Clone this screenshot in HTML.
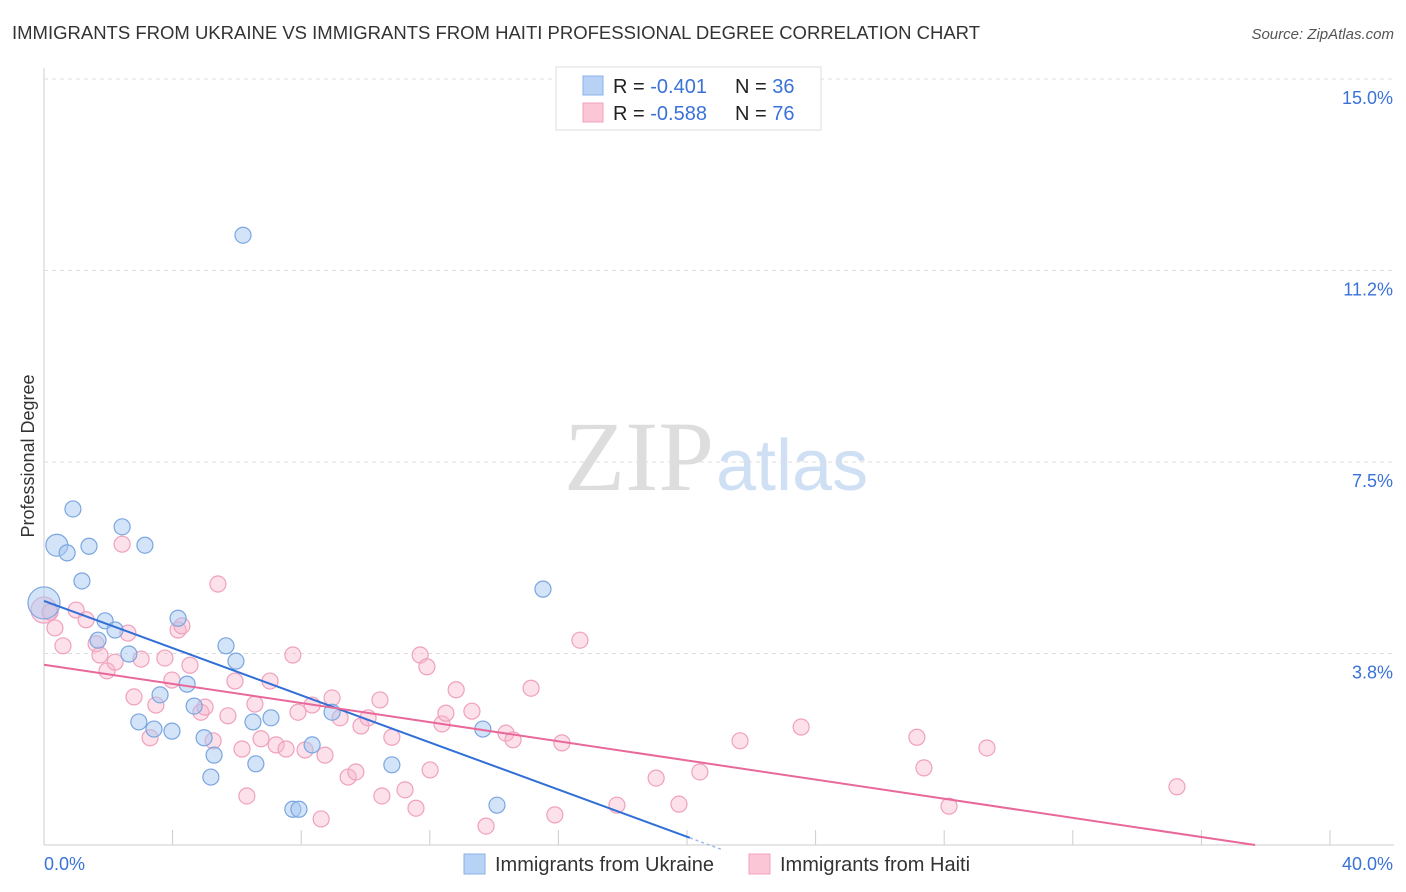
<!DOCTYPE html>
<html><head><meta charset="utf-8">
<style>
body{margin:0;background:#fff;font-family:"Liberation Sans",sans-serif;}
#wrap{position:relative;width:1406px;height:892px;overflow:hidden;}
</style></head>
<body>
<div id="wrap">
<svg id="svg" width="1406" height="892" xmlns="http://www.w3.org/2000/svg" font-family="Liberation Sans, sans-serif">
<text x="12" y="39" font-size="18" fill="#333" textLength="968" lengthAdjust="spacingAndGlyphs">IMMIGRANTS FROM UKRAINE VS IMMIGRANTS FROM HAITI PROFESSIONAL DEGREE CORRELATION CHART</text>
<text x="1394" y="39" font-size="15" fill="#555" text-anchor="end" font-style="italic">Source: ZipAtlas.com</text>
<text x="714" y="490" font-size="100" fill="#ddd" text-anchor="end" style="font-family:'Liberation Serif',serif">ZIP</text>
<text x="716" y="490" font-size="72" fill="#cfe0f5">atlas</text>
<text transform="translate(34,456) rotate(-90)" font-size="18" fill="#333" text-anchor="middle">Professional Degree</text>
<g id="grid"></g>
<g id="marks"></g>
<g>
<rect x="556" y="67" width="265" height="63" fill="#fff" stroke="#ddd"/>
<rect x="583" y="76" width="20" height="19" fill="#b8d2f5" stroke="#8ab0e6"/>
<rect x="583" y="103" width="20" height="19" fill="#fbc6d6" stroke="#f0a0bd"/>
<text x="613" y="93" font-size="20" fill="#222">R = <tspan fill="#3a72d8">-0.401</tspan></text>
<text x="735" y="93" font-size="20" fill="#222">N = <tspan fill="#3a72d8">36</tspan></text>
<text x="613" y="120" font-size="20" fill="#222">R = <tspan fill="#3a72d8">-0.588</tspan></text>
<text x="735" y="120" font-size="20" fill="#222">N = <tspan fill="#3a72d8">76</tspan></text>
</g>
<g>
<rect x="464" y="854" width="21" height="20" fill="#b8d2f5" stroke="#8ab0e6"/>
<text x="495" y="871" font-size="20" fill="#333">Immigrants from Ukraine</text>
<rect x="749" y="854" width="21" height="20" fill="#fbc6d6" stroke="#f0a0bd"/>
<text x="780" y="871" font-size="20" fill="#333">Immigrants from Haiti</text>
</g>
</svg>
</div>
<script>
const xTicksLabels = ["0.0%","40.0%"];
const yTicks = [3.75, 7.5, 11.25, 15];
const yTickLabels = ["3.8%","7.5%","11.2%","15.0%"];
const ukraineX = [0,0.40,0.72,0.90,1.18,1.40,2.43,3.14,1.90,2.21,1.68,2.64,4.17,5.66,5.97,3.61,4.45,4.67,2.95,3.42,3.98,4.98,5.29,5.19,6.50,7.06,6.59,8.34,8.96,7.74,7.93,10.82,13.65,14.09,15.52,6.19];
const ukraineY = [4.74,5.87,5.72,6.58,5.17,5.85,6.23,5.87,4.39,4.21,4.01,3.74,4.44,3.90,3.60,2.94,3.15,2.72,2.41,2.27,2.23,2.10,1.76,1.33,2.41,2.49,1.59,1.96,2.60,0.70,0.70,1.57,2.27,0.78,5.01,11.94];
const haitiX = [0,0.34,0.19,0.59,1.00,1.31,1.62,1.74,1.96,2.21,2.43,2.61,2.80,3.02,3.30,3.48,3.76,3.98,4.17,4.29,4.54,4.88,5.01,5.26,5.41,5.72,5.94,6.16,6.31,6.56,6.75,7.03,7.22,7.53,7.74,7.90,8.12,8.34,8.62,8.74,8.96,9.21,9.46,9.70,9.86,10.08,10.45,10.51,10.82,11.23,11.57,11.70,11.91,12.01,12.38,12.50,12.82,13.31,13.75,14.37,14.59,15.15,15.89,16.11,16.67,17.82,19.04,19.75,20.40,21.65,23.55,27.15,27.37,28.15,29.33,35.24];
const haitiY = [4.60,4.25,4.56,3.90,4.60,4.41,3.94,3.72,3.41,3.58,5.89,4.15,2.90,3.64,2.10,2.74,3.66,3.23,4.21,4.29,3.52,2.60,2.70,2.04,5.11,2.53,3.21,1.88,0.96,2.76,2.08,3.21,1.96,1.88,3.72,2.60,1.86,2.74,0.51,1.76,2.88,2.49,1.33,1.43,2.33,2.49,2.84,0.96,2.11,1.08,0.72,3.72,3.49,1.47,2.37,2.58,3.04,2.62,0.37,2.19,2.06,3.07,0.59,2.00,4.01,0.78,1.31,0.80,1.43,2.04,2.31,2.11,1.51,0.76,1.90,1.14];
const ukraineTrend = [[0,4.78],[20.09,0.14]];
const haitiTrend = [[0,3.53],[37.67,0]];

const NS="http://www.w3.org/2000/svg";
const sx = v => 44 + v*32.15;
const sy = v => 845 - v*51.07;
function mk(tag, attrs, parent){const e=document.createElementNS(NS,tag);for(const k in attrs)e.setAttribute(k,attrs[k]);parent.appendChild(e);return e;}
const grid=document.getElementById('grid'), marks=document.getElementById('marks');
let l=mk('line',{x1:44,y1:68,x2:44,y2:845,stroke:'#ccc'},grid);


l=mk('line',{x1:44,y1:845,x2:1394,y2:845,stroke:'#ccc'},grid);


for(let i=1;i<=10;i++){const t=mk('line',{x1:44+i*128.6,y1:830,x2:44+i*128.6,y2:845,stroke:'#ccc'},grid);

}
yTicks.forEach((v,i)=>{const g=mk('line',{x1:44,x2:1394,y1:sy(v),y2:sy(v),stroke:'#ddd','stroke-dasharray':'4,4'},grid);


const t=mk('text',{x:1393,y:sy(v)+25,'font-size':18,fill:'#3a72d8','text-anchor':'end'},grid);t.textContent=yTickLabels[i];

});
let tx=mk('text',{x:44,y:870,'font-size':18,fill:'#3a72d8'},grid);tx.textContent=xTicksLabels[0];


tx=mk('text',{x:1393,y:870,'font-size':18,fill:'#3a72d8','text-anchor':'end'},grid);tx.textContent=xTicksLabels[1];


haitiX.forEach((x,i)=>{const c=mk('circle',{cx:sx(x),cy:sy(haitiY[i]),r:i==0?13:8,fill:'rgba(248,180,202,0.4)',stroke:'#f0a0bd','stroke-width':1.2},marks);

});
ukraineX.forEach((x,i)=>{const c=mk('circle',{cx:sx(x),cy:sy(ukraineY[i]),r:i==0?16:(i==1?11:8),fill:'rgba(168,200,242,0.5)',stroke:'#7aa6e0','stroke-width':1.2},marks);

});
let tl=mk('line',{x1:sx(ukraineTrend[0][0]),y1:sy(ukraineTrend[0][1]),x2:sx(ukraineTrend[1][0]),y2:sy(ukraineTrend[1][1]),stroke:'#2f6fd6','stroke-width':2},marks);


const sl=(ukraineTrend[1][1]-ukraineTrend[0][1])/(ukraineTrend[1][0]-ukraineTrend[0][0]);
tl=mk('line',{x1:sx(ukraineTrend[1][0]),y1:sy(ukraineTrend[1][1]),x2:sx(ukraineTrend[1][0]+1),y2:sy(ukraineTrend[1][1]+sl),stroke:'#9bbbe8','stroke-width':1.5,'stroke-dasharray':'3,3'},marks);


tl=mk('line',{x1:sx(haitiTrend[0][0]),y1:sy(haitiTrend[0][1]),x2:sx(haitiTrend[1][0]),y2:sy(haitiTrend[1][1]),stroke:'#e8689a','stroke-width':2},marks);


</script>
</body></html>
